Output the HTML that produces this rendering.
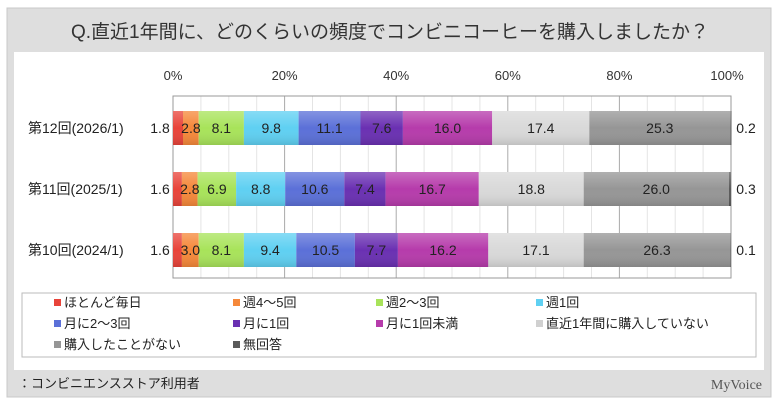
<!DOCTYPE html>
<html><head><meta charset="utf-8"><style>
body{margin:0;background:#fff;}
svg{display:block;font-family:"Liberation Sans","Noto Sans CJK JP",sans-serif;}
</style></head><body>
<svg width="780" height="405" viewBox="0 0 780 405">
<defs>
<linearGradient id="sh" x1="0" y1="0" x2="0" y2="1"><stop offset="0" stop-color="#fff" stop-opacity="0.25"/><stop offset="0.5" stop-color="#fff" stop-opacity="0"/><stop offset="1" stop-color="#000" stop-opacity="0.12"/></linearGradient>
</defs>
<rect x="7" y="8" width="764" height="389" fill="#dedede" stroke="#c8c8c8"/>
<rect x="14" y="52" width="750" height="318" fill="#fff"/>
<text x="390" y="38" font-size="19" text-anchor="middle" fill="#333">Q.直近1年間に、どのくらいの頻度でコンビニコーヒーを購入しましたか？</text>
<g font-size="13" fill="#333" text-anchor="middle">
<text x="173" y="80">0%</text><text x="284.6" y="80">20%</text><text x="396.2" y="80">40%</text><text x="507.8" y="80">60%</text><text x="619.4" y="80">80%</text><text x="727" y="80">100%</text>
</g>
<g stroke="#e4e4e4">
<line x1="200.9" y1="96" x2="200.9" y2="278"/><line x1="228.8" y1="96" x2="228.8" y2="278"/><line x1="256.7" y1="96" x2="256.7" y2="278"/>
<line x1="312.5" y1="96" x2="312.5" y2="278"/><line x1="340.4" y1="96" x2="340.4" y2="278"/><line x1="368.3" y1="96" x2="368.3" y2="278"/>
<line x1="424.1" y1="96" x2="424.1" y2="278"/><line x1="452" y1="96" x2="452" y2="278"/><line x1="479.9" y1="96" x2="479.9" y2="278"/>
<line x1="535.7" y1="96" x2="535.7" y2="278"/><line x1="563.6" y1="96" x2="563.6" y2="278"/><line x1="591.5" y1="96" x2="591.5" y2="278"/>
<line x1="647.3" y1="96" x2="647.3" y2="278"/><line x1="675.2" y1="96" x2="675.2" y2="278"/><line x1="703.1" y1="96" x2="703.1" y2="278"/>
</g>
<g stroke="#aaa">
<line x1="284.6" y1="96" x2="284.6" y2="278"/><line x1="396.2" y1="96" x2="396.2" y2="278"/><line x1="507.8" y1="96" x2="507.8" y2="278"/><line x1="619.4" y1="96" x2="619.4" y2="278"/>
</g>
<rect x="173" y="96" width="558" height="182" fill="none" stroke="#999"/>
<!-- row1 -->
<g>
<rect x="173" y="111" width="10" height="34" fill="#e8443a"/>
<rect x="183" y="111" width="15.7" height="34" fill="#f5883a"/>
<rect x="198.7" y="111" width="45.2" height="34" fill="#a8e35a"/>
<rect x="243.9" y="111" width="54.7" height="34" fill="#5fd0f2"/>
<rect x="298.6" y="111" width="61.9" height="34" fill="#5b70d8"/>
<rect x="360.5" y="111" width="42.4" height="34" fill="#6a30b2"/>
<rect x="402.9" y="111" width="89.3" height="34" fill="#b63bab"/>
<rect x="492.2" y="111" width="97.1" height="34" fill="#d9d9d9"/>
<rect x="589.3" y="111" width="141.1" height="34" fill="#969696"/>
<rect x="730.4" y="111" width="1.1" height="34" fill="#5a5a5a"/>
<rect x="173" y="111" width="558" height="34" fill="url(#sh)"/>
</g>
<g>
<rect x="173" y="172" width="8.9" height="34" fill="#e8443a"/>
<rect x="181.9" y="172" width="15.7" height="34" fill="#f5883a"/>
<rect x="197.6" y="172" width="38.5" height="34" fill="#a8e35a"/>
<rect x="236.1" y="172" width="49.1" height="34" fill="#5fd0f2"/>
<rect x="285.2" y="172" width="59.1" height="34" fill="#5b70d8"/>
<rect x="344.3" y="172" width="41.3" height="34" fill="#6a30b2"/>
<rect x="385.6" y="172" width="93.2" height="34" fill="#b63bab"/>
<rect x="478.8" y="172" width="104.9" height="34" fill="#d9d9d9"/>
<rect x="583.7" y="172" width="145.1" height="34" fill="#969696"/>
<rect x="728.8" y="172" width="2.2" height="34" fill="#5a5a5a"/>
<rect x="173" y="172" width="558" height="34" fill="url(#sh)"/>
</g>
<g>
<rect x="173" y="233" width="8.9" height="34" fill="#e8443a"/>
<rect x="181.9" y="233" width="16.8" height="34" fill="#f5883a"/>
<rect x="198.7" y="233" width="45.2" height="34" fill="#a8e35a"/>
<rect x="243.9" y="233" width="52.4" height="34" fill="#5fd0f2"/>
<rect x="296.3" y="233" width="58.6" height="34" fill="#5b70d8"/>
<rect x="354.9" y="233" width="43" height="34" fill="#6a30b2"/>
<rect x="397.9" y="233" width="90.4" height="34" fill="#b63bab"/>
<rect x="488.3" y="233" width="95.4" height="34" fill="#d9d9d9"/>
<rect x="583.7" y="233" width="146.7" height="34" fill="#969696"/>
<rect x="730.4" y="233" width="0.6" height="34" fill="#5a5a5a"/>
<rect x="173" y="233" width="558" height="34" fill="url(#sh)"/>
</g>
<g font-size="14" fill="#222" text-anchor="middle">
<text x="160" y="133">1.8</text><text x="190.9" y="133">2.8</text><text x="221.3" y="133">8.1</text><text x="271.2" y="133">9.8</text><text x="329.6" y="133">11.1</text><text x="381.7" y="133">7.6</text><text x="447.5" y="133">16.0</text><text x="540.8" y="133">17.4</text><text x="659.8" y="133">25.3</text><text x="746" y="133">0.2</text>
<text x="160" y="194">1.6</text><text x="189.8" y="194">2.8</text><text x="216.9" y="194">6.9</text><text x="260.7" y="194">8.8</text><text x="314.8" y="194">10.6</text><text x="365" y="194">7.4</text><text x="432.2" y="194">16.7</text><text x="531.3" y="194">18.8</text><text x="656.3" y="194">26.0</text><text x="746" y="194">0.3</text>
<text x="160" y="255">1.6</text><text x="190.3" y="255">3.0</text><text x="221.3" y="255">8.1</text><text x="270.1" y="255">9.4</text><text x="325.6" y="255">10.5</text><text x="376.4" y="255">7.7</text><text x="443" y="255">16.2</text><text x="536" y="255">17.1</text><text x="657" y="255">26.3</text><text x="746" y="255">0.1</text>
</g>
<g font-size="14" fill="#222">
<text x="28" y="133">第12回(2026/1)</text>
<text x="28" y="194">第11回(2025/1)</text>
<text x="28" y="255">第10回(2024/1)</text>
</g>
<rect x="22" y="293" width="734" height="64" fill="#fff" stroke="#bbb"/>
<g font-size="13" fill="#222">
<rect x="54" y="299" width="7" height="7" fill="#e8443a"/><text x="64" y="307">ほとんど毎日</text>
<rect x="233" y="299" width="7" height="7" fill="#f5883a"/><text x="243" y="307">週4～5回</text>
<rect x="376" y="299" width="7" height="7" fill="#a8e35a"/><text x="386" y="307">週2～3回</text>
<rect x="536" y="299" width="7" height="7" fill="#5fd0f2"/><text x="546" y="307">週1回</text>
<rect x="54" y="320" width="7" height="7" fill="#5b70d8"/><text x="64" y="328">月に2～3回</text>
<rect x="233" y="320" width="7" height="7" fill="#6a30b2"/><text x="243" y="328">月に1回</text>
<rect x="376" y="320" width="7" height="7" fill="#b63bab"/><text x="386" y="328">月に1回未満</text>
<rect x="536" y="320" width="7" height="7" fill="#d0d0d0"/><text x="546" y="328">直近1年間に購入していない</text>
<rect x="54" y="341" width="7" height="7" fill="#969696"/><text x="64" y="349">購入したことがない</text>
<rect x="233" y="341" width="7" height="7" fill="#5a5a5a"/><text x="243" y="349">無回答</text>
</g>
<text x="18" y="388" font-size="13" fill="#222">：コンビニエンスストア利用者</text>
<text x="762" y="389" font-size="14" fill="#555" text-anchor="end" font-family="Liberation Serif,serif">MyVoice</text>
</svg>
</body></html>
